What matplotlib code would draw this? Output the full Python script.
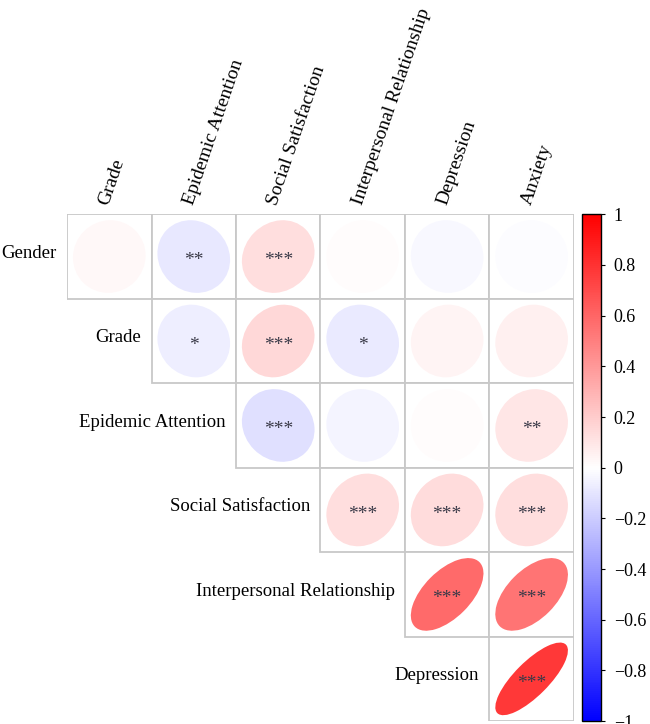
import numpy as np
import matplotlib
matplotlib.use("Agg")
from matplotlib import pyplot as plt
from matplotlib.patches import Ellipse, Rectangle
from matplotlib.colors import LinearSegmentedColormap, Normalize
from matplotlib.colorbar import ColorbarBase

plt.rcParams['font.family'] = ['Liberation Serif', 'DejaVu Serif']

# row / column names of the upper triangle
row_names = ["Gender", "Grade", "Epidemic Attention", "Social Satisfaction",
             "Interpersonal Relationship", "Depression"]
col_names = ["Grade", "Epidemic Attention", "Social Satisfaction",
             "Interpersonal Relationship", "Depression", "Anxiety"]

# correlation values (row i, starting at column i)
r_gender = [0.03, -0.09, 0.13, 0.01, -0.03, -0.01]
r_grade = [-0.07, 0.15, -0.08, 0.04, 0.06]
r_epid = [-0.12, -0.04, 0.01, 0.10]
r_social = [0.13, 0.14, 0.13]
r_inter = [0.58, 0.54]
r_dep = [0.78]

s_gender = ["", "**", "***", "", "", ""]
s_grade = ["*", "***", "*", "", ""]
s_epid = ["***", "", "", "**"]
s_social = ["***", "***", "***"]
s_inter = ["***", "***"]
s_dep = ["***"]

corr = [r_gender, r_grade, r_epid, r_social, r_inter, r_dep]
stars = [s_gender, s_grade, s_epid, s_social, s_inter, s_dep]

cmap = LinearSegmentedColormap.from_list("bwr2", ["#0000ff", "#ffffff", "#ff0000"])
n = len(row_names)

fig = plt.figure(figsize=(6.5, 7.24), dpi=100)
ax = fig.add_axes([0.103, 0.004, 0.780, 0.700])
scale = 0.43

for i in range(n):
    y = n - 1 - i
    for k, r in enumerate(corr[i]):
        j = i + k
        ax.add_patch(Rectangle((j - 0.5, y - 0.5), 1, 1, facecolor="white",
                               edgecolor="#c8c8c8", linewidth=1.3, zorder=1))
        ax.add_patch(Ellipse((j, y), 2 * scale * np.sqrt(1 + r), 2 * scale * np.sqrt(1 - r),
                             angle=45, facecolor=cmap((r + 1) / 2), edgecolor="none", zorder=2))
        if stars[i][k]:
            ax.text(j, y - 0.05, stars[i][k], ha="center", va="center", fontsize=14,
                    color="#3a3a48", zorder=3)
    ax.text(i - 0.5 - 0.12, y + 0.04, row_names[i], ha="right", va="center", fontsize=13.5)

for j in range(n):
    ax.text(j - 0.06, n - 0.5 + 0.12, col_names[j], rotation=71, rotation_mode="anchor",
            ha="left", va="center", fontsize=14)

ax.set_xlim(-0.5, n - 0.5)
ax.set_ylim(-0.5, n - 0.5)
ax.set_aspect("equal")
ax.axis("off")

cax = fig.add_axes([0.895, 0.004, 0.030, 0.700])
cb = ColorbarBase(cax, cmap=cmap, norm=Normalize(-1, 1), orientation="vertical")
ticks = [-1, -0.8, -0.6, -0.4, -0.2, 0, 0.2, 0.4, 0.6, 0.8, 1]
labels = []
for t in ticks:
    if t < 0:
        labels.append("\u2212%g" % abs(t))
    else:
        labels.append("%g" % t)
cb.set_ticks(ticks)
cb.set_ticklabels(labels)
cb.outline.set_linewidth(1.0)
cax.tick_params(labelsize=13, length=3, width=0.8, pad=6)

fig.savefig("out.png", dpi=100)
